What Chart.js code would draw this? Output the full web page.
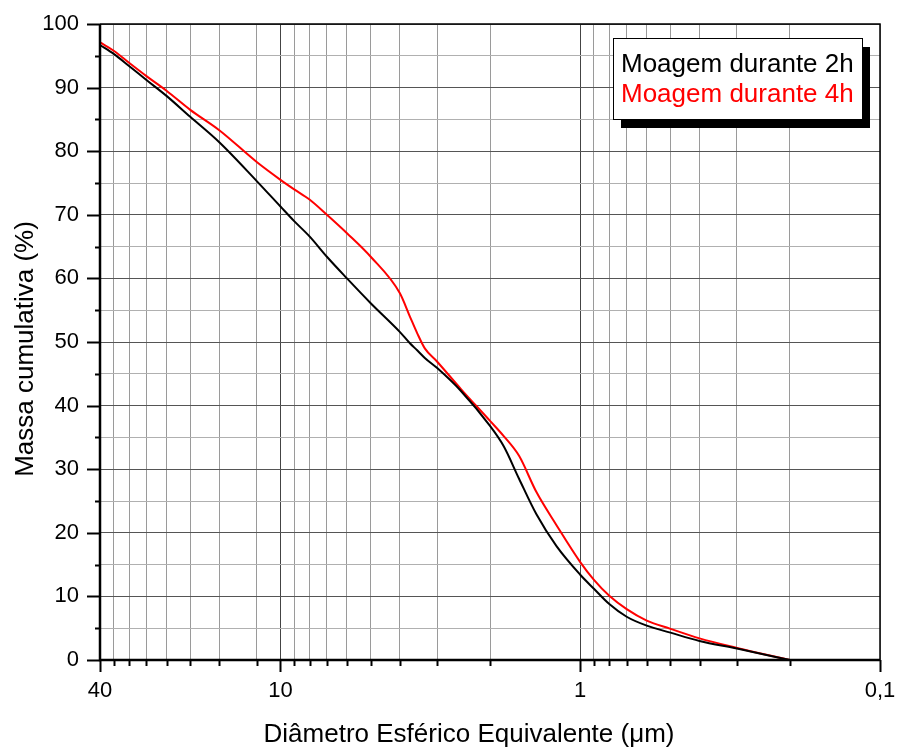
<!DOCTYPE html>
<html lang="pt">
<head>
    <meta charset="UTF-8">
    <title>Massa cumulativa x Diâmetro</title>
    <script src="https://cdn.jsdelivr.net/npm/chart.js"></script>
    <style>
        body { margin: 0; background: white; }
        canvas { display: block; }
    </style>
</head>
<body>
    <canvas id="grafico" width="898" height="749"></canvas>

    <script>
        // Diâmetro esférico equivalente (um) - eixo x invertido
        var diametros = [40, 36, 32, 28, 24, 20, 16, 12, 10, 9, 8, 7, 6, 5, 4, 3.7, 3.5, 3.3, 3, 2.5, 2, 1.8, 1.6, 1.4, 1.2, 1, 0.9, 0.8, 0.7, 0.6, 0.5, 0.4, 0.3, 0.2];
        var massa2h = [96.7, 95.3, 93.4, 91.2, 88.7, 85.4, 81.4, 75.3, 71.3, 69.0, 66.6, 63.4, 60.0, 56.1, 51.6, 49.8, 48.7, 47.5, 45.9, 42.3, 36.8, 33.6, 28.5, 22.9, 17.9, 13.4, 11.2, 8.8, 6.8, 5.4, 4.3, 3.0, 1.8, 0];
        var massa4h = [97.1, 95.8, 93.9, 91.8, 89.5, 86.5, 83.3, 78.3, 75.5, 74.0, 72.4, 70.0, 67.1, 63.4, 57.7, 54.0, 51.4, 49.0, 46.9, 42.6, 37.6, 35.2, 32.1, 26.4, 21.2, 15.4, 12.6, 10.1, 8.0, 6.2, 4.9, 3.4, 1.9, 0];

        // ticks do eixo x (Origin usa passo 4 na primeira década)
        var xTicks = [40, 36, 32, 28, 24, 20, 16, 12, 10, 9, 8, 7, 6, 5, 4, 3, 2, 1, 0.9, 0.8, 0.7, 0.6, 0.5, 0.4, 0.3, 0.2, 0.1];
        var xMajor = [40, 10, 1, 0.1];
        var xLabels = { 40: "40", 10: "10", 1: "1", 0.1: "0,1" };

        var tituloX = "Diâmetro Esférico Equivalente (\u03bcm)";
        var tituloY = "Massa cumulativa (%)";

        var series = [
            { label: "Moagem durante 2h", values: massa2h, color: "#000000" },
            { label: "Moagem durante 4h", values: massa4h, color: "#ff0000" }
        ];

        var fonte = "'Liberation Sans', Arial, sans-serif";

        var datasets = series.map(function (s) {
            return {
                label: s.label,
                data: diametros.map(function (d, i) { return { x: d, y: s.values[i] }; }),
                borderColor: s.color,
                borderWidth: 2,
                pointRadius: 0,
                fill: false,
                cubicInterpolationMode: "monotone"
            };
        });

        // moldura, marcas dos eixos, títulos e legenda com sombra
        var moldura = {
            id: "moldura",
            afterDraw: function (chart) {
                var ctx = chart.ctx;
                var a = chart.chartArea;
                var xs = chart.scales.x, ys = chart.scales.y;
                ctx.save();
                ctx.strokeStyle = "#000";

                // marcas y
                ctx.lineWidth = 2;
                for (var v = 0; v <= 100; v += 5) {
                    var py = Math.round(ys.getPixelForValue(v)) + 0.5;
                    var len = v % 10 === 0 ? 13 : 5;
                    ctx.beginPath();
                    ctx.moveTo(a.left - len, py);
                    ctx.lineTo(a.left, py);
                    ctx.stroke();
                }
                // marcas x
                xTicks.forEach(function (t) {
                    var px = Math.round(xs.getPixelForValue(t)) + 0.5;
                    var len = xMajor.indexOf(t) >= 0 ? 12 : 6;
                    ctx.beginPath();
                    ctx.moveTo(px, a.bottom);
                    ctx.lineTo(px, a.bottom + len);
                    ctx.stroke();
                });

                // moldura
                ctx.lineWidth = 1.5;
                ctx.beginPath();
                ctx.moveTo(a.left, a.top);
                ctx.lineTo(a.right, a.top);
                ctx.lineTo(a.right, a.bottom);
                ctx.stroke();
                ctx.lineWidth = 2.5;
                ctx.beginPath();
                ctx.moveTo(a.left, a.top);
                ctx.lineTo(a.left, a.bottom);
                ctx.lineTo(a.right, a.bottom);
                ctx.stroke();

                // títulos dos eixos
                ctx.fillStyle = "#000";
                ctx.font = "26px " + fonte;
                ctx.textAlign = "center";
                ctx.textBaseline = "alphabetic";
                ctx.fillText(tituloX, 469, 742);
                ctx.save();
                ctx.translate(33, 349);
                ctx.rotate(-Math.PI / 2);
                ctx.fillText(tituloY, 0, 0);
                ctx.restore();

                // legenda
                var lx = 613, ly = 38, lw = 249, lh = 81;
                ctx.fillStyle = "#000";
                ctx.fillRect(lx + 8, ly + 9, lw, lh);
                ctx.fillStyle = "#fff";
                ctx.fillRect(lx, ly, lw, lh);
                ctx.lineWidth = 1;
                ctx.strokeRect(lx + 0.5, ly + 0.5, lw, lh);
                ctx.textAlign = "left";
                series.forEach(function (s, i) {
                    ctx.fillStyle = s.color;
                    ctx.fillText(s.label, lx + 8, ly + 34 + i * 30);
                });
                ctx.restore();
            }
        };

        var ctx = document.getElementById("grafico").getContext("2d");
        var grafico = new Chart(ctx, {
            type: "line",
            data: { datasets: datasets },
            options: {
                responsive: false,
                animation: false,
                layout: { padding: { left: 0, top: 24, right: 18, bottom: 0 } },
                plugins: {
                    legend: { display: false },
                    tooltip: { enabled: false }
                },
                scales: {
                    x: {
                        type: "logarithmic",
                        reverse: true,
                        min: 0.1,
                        max: 40,
                        afterBuildTicks: function (scale) {
                            scale.ticks = xTicks.map(function (t) { return { value: t }; });
                        },
                        afterFit: function (scale) {
                            scale.height = 89;
                            scale.paddingLeft = 0;
                            scale.paddingRight = 0;
                        },
                        border: { display: false },
                        grid: {
                            drawTicks: false,
                            lineWidth: 1,
                            color: function (c) {
                                var t = c.tick ? c.tick.value : null;
                                return (t === 10 || t === 1) ? "#444444" : "#9a9a9a";
                            }
                        },
                        ticks: {
                            autoSkip: false,
                            maxRotation: 0,
                            padding: 18,
                            color: "#000",
                            font: { family: fonte, size: 22 },
                            callback: function (value) {
                                return xLabels[value] !== undefined ? xLabels[value] : "";
                            }
                        },
                        title: { display: false }
                    },
                    y: {
                        min: 0,
                        max: 100,
                        afterFit: function (scale) {
                            scale.width = 100;
                            scale.paddingTop = 0;
                            scale.paddingBottom = 0;
                        },
                        border: { display: false },
                        grid: {
                            drawTicks: false,
                            lineWidth: 1,
                            color: function (c) {
                                var t = c.tick ? c.tick.value : 0;
                                return t % 10 === 0 ? "#555555" : "#b0b0b0";
                            }
                        },
                        ticks: {
                            stepSize: 5,
                            autoSkip: false,
                            padding: 21,
                            color: "#000",
                            font: { family: fonte, size: 22 },
                            callback: function (value) {
                                return value % 10 === 0 ? String(value) : "";
                            }
                        },
                        title: { display: false }
                    }
                }
            },
            plugins: [moldura]
        });
    </script>
</body>
</html>
